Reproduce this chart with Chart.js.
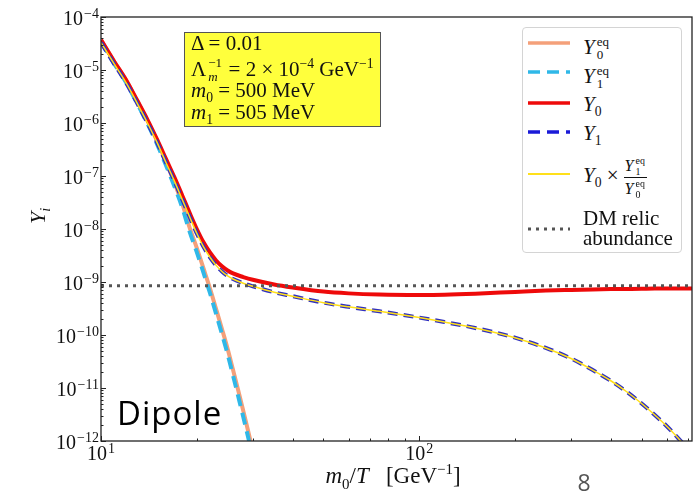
<!DOCTYPE html>
<html>
<head>
<meta charset="utf-8">
<script src="https://cdn.jsdelivr.net/npm/chart.js@4.4.1/dist/chart.umd.min.js"></script>
<style>
  body { margin: 0; background: #fff; }
  #wrap { position: relative; width: 698px; height: 498px; font-family: "Liberation Serif", serif; color: #111; }
  canvas { position: absolute; left: 0; top: 0; }
  .abs { position: absolute; white-space: nowrap; }
  sup, sub { font-size: 0.65em; line-height: 0; }
  /* stacked super/subscript */
  .ss { display: inline-block; position: relative; width: 0.66em; height: 1em; margin-left: 2px; }
  .ss .u, .ss .d { position: absolute; left: 0; font-size: 0.62em; line-height: 1; font-style: normal; }
  .ss .u { top: 0.12em; }
  .ss .d { top: 1.18em; }
  #box { left: 184px; top: 32px; height: 95px; box-sizing: border-box; padding: 0 7px 0 6px; background: #ffff3c;
         border: 1.5px solid #555; font-size: 21px; line-height: 21.5px; }
  #legend { left: 522px; top: 27px; width: 160px; height: 226px; box-sizing: border-box; background: #fff;
            border: 1px solid #d4d4d4; border-radius: 4px; }
  .lt { position: absolute; left: 60px; height: 24px; line-height: 24px; font-size: 21px; white-space: nowrap; }
  .frac { display: inline-flex; flex-direction: column; align-items: center; vertical-align: middle; font-size: 16px; line-height: 20px; margin-left: 5px; }
  .frac .num { border-bottom: 1px solid #111; padding: 0 1px 1px; }
</style>
</head>
<body>
<div id="wrap">
  <canvas id="c" width="698" height="498"></canvas>

  <div class="abs" id="box">
    <div>&Delta; = 0.01</div>
    <div>&Lambda;<span class="ss" style="width:0.72em"><span class="u">&minus;1</span><span class="d"><i>m</i></span></span> = 2 &times; 10<sup>&minus;4</sup> GeV<sup>&minus;1</sup></div>
    <div><i>m</i><sub>0</sub> = 500 MeV</div>
    <div><i>m</i><sub>1</sub> = 505 MeV</div>
  </div>

  <div class="abs" id="legend">
    <svg width="160" height="226" style="position:absolute;left:-1px;top:-1px">
      <line x1="6" y1="16" x2="48" y2="16" stroke="#f4a07a" stroke-width="3.5"/>
      <line x1="6" y1="45" x2="48" y2="45" stroke="#2fb8e8" stroke-width="3.5" stroke-dasharray="12 7"/>
      <line x1="6" y1="76" x2="48" y2="76" stroke="#ee0a0a" stroke-width="3.5"/>
      <line x1="6" y1="105" x2="48" y2="105" stroke="#1a1ad8" stroke-width="3.5" stroke-dasharray="12 7"/>
      <line x1="6" y1="147" x2="48" y2="147" stroke="#ffe01a" stroke-width="2"/>
      <line x1="6" y1="202" x2="48" y2="202" stroke="#555" stroke-width="3" stroke-dasharray="3 5"/>
    </svg>
    <div class="lt" style="top:5px"><i>Y</i><span class="ss"><span class="u">eq</span><span class="d">0</span></span></div>
    <div class="lt" style="top:34px"><i>Y</i><span class="ss"><span class="u">eq</span><span class="d">1</span></span></div>
    <div class="lt" style="top:64px"><i>Y</i><sub>0</sub></div>
    <div class="lt" style="top:93px"><i>Y</i><sub>1</sub></div>
    <div class="lt" style="top:123px;height:48px;line-height:48px"><i>Y</i><sub>0</sub> &times;<span class="frac"><span class="num"><i>Y</i><span class="ss"><span class="u">eq</span><span class="d">1</span></span></span><span><i>Y</i><span class="ss"><span class="u">eq</span><span class="d">0</span></span></span></span></div>
    <div class="lt" style="top:180px;line-height:20px;height:44px">DM relic<br>abundance</div>
  </div>

  <div class="abs" style="left:26px;top:204px;width:24px;height:24px;font-size:22px;line-height:24px;transform:rotate(-90deg);text-align:center"><i>Y</i><sub><i>i</i></sub></div>
  <div class="abs" style="left:243px;top:462px;width:300px;text-align:center;font-size:23px;line-height:28px"><i>m</i><sub>0</sub>/<i>T</i>&nbsp;&nbsp;&nbsp;[GeV<sup>&minus;1</sup>]</div>
</div>
<script>
// Y_eq curves (only visible down to 1e-12)
const xEq = [10, 11, 12, 13, 14, 15, 16, 17, 18, 19, 20, 21, 22, 23, 24, 25, 26, 27, 28, 29, 30];
const y0Eq = [3.7e-5, 1.45e-5, 6.4e-6, 2.6e-6, 1.1e-6, 4.6e-7, 1.85e-7, 7.5e-8, 3.0e-8, 1.05e-8, 4.4e-9,
  1.8e-9, 7.6e-10, 3.1e-10, 1.3e-10, 5.5e-11, 2.2e-11, 9.0e-12, 3.7e-12, 1.55e-12, 6.5e-13];
const y1Eq = [3.4e-5, 1.32e-5, 5.76e-6, 2.32e-6, 9.7e-7, 4.0e-7, 1.6e-7, 6.4e-8, 2.54e-8, 8.8e-9, 3.66e-9,
  1.48e-9, 6.2e-10, 2.5e-10, 1.04e-10, 4.35e-11, 1.72e-11, 6.9e-12, 2.84e-12, 1.18e-12, 4.9e-13];

// solved abundances
const xFo = [10, 11, 12, 13, 14, 15, 16, 17, 18, 19, 20, 21, 22, 23, 24, 25, 26, 28, 30, 35, 40, 50, 60, 75,
  100, 120, 150, 200, 250, 300, 350, 400, 450, 500, 550, 600, 650, 700, 720];
const y0 = [3.7e-5, 1.45e-5, 6.4e-6, 2.65e-6, 1.15e-6, 4.9e-7, 2.1e-7, 9.5e-8, 4.3e-8, 2.0e-8, 1.0e-8,
  5.6e-9, 3.6e-9, 2.55e-9, 1.98e-9, 1.65e-9, 1.45e-9, 1.24e-9, 1.1e-9, 9.0e-10, 7.9e-10, 6.6e-10, 6.1e-10, 5.8e-10,
  5.7e-10, 5.75e-10, 6.0e-10, 6.5e-10, 6.9e-10, 7.1e-10, 7.25e-10, 7.35e-10, 7.4e-10, 7.45e-10,
  7.5e-10, 7.5e-10, 7.5e-10, 7.5e-10, 7.5e-10];
const y1 = [3.3e-5, 1.3e-5, 5.7e-6, 2.35e-6, 1.0e-6, 4.3e-7, 1.8e-7, 8.1e-8, 3.6e-8, 1.68e-8, 8.3e-9,
  4.6e-9, 2.93e-9, 2.06e-9, 1.58e-9, 1.3e-9, 1.14e-9, 9.5e-10, 8.3e-10, 6.4e-10, 5.4e-10, 4.07e-10, 3.4e-10, 2.8e-10,
  2.13e-10, 1.76e-10, 1.36e-10, 8.9e-11, 5.7e-11, 3.6e-11, 2.2e-11, 1.37e-11, 8.4e-12, 5.1e-12,
  3.1e-12, 1.9e-12, 1.15e-12, 7.0e-13, 5.8e-13];
const y0Ratio = [3.3e-5, 1.3e-5, 5.7e-6, 2.35e-6, 1.0e-6, 4.3e-7, 1.8e-7, 8.1e-8, 3.6e-8, 1.68e-8, 8.3e-9,
  4.6e-9, 2.93e-9, 2.06e-9, 1.58e-9, 1.3e-9, 1.14e-9, 9.5e-10, 8.3e-10, 6.4e-10, 5.4e-10, 4.07e-10, 3.4e-10, 2.8e-10,
  2.13e-10, 1.76e-10, 1.36e-10, 8.9e-11, 5.7e-11, 3.6e-11, 2.2e-11, 1.37e-11, 8.4e-12, 5.1e-12,
  3.1e-12, 1.9e-12, 1.15e-12, 7.0e-13, 5.8e-13];

const relicX = [10, 720];
const relicY = [8.5e-10, 8.5e-10];

const xExps = [1, 2];
const yExps = [-4, -5, -6, -7, -8, -9, -10, -11, -12];

const pts = (xs, ys) => xs.map((x, i) => ({ x, y: ys[i] }));
const SERIF = '"Liberation Serif", serif';

function drawPow(ctx, exp, x, y, align) {
  const e = (exp < 0 ? '\u2212' : '') + Math.abs(exp);
  ctx.font = '14px ' + SERIF;
  const ew = ctx.measureText(e).width;
  ctx.font = '20px ' + SERIF;
  const bw = ctx.measureText('10').width;
  const left = align === 'right' ? x - bw - ew - 1 : x - (bw + ew + 1) / 2;
  ctx.textAlign = 'left';
  ctx.fillText('10', left, y);
  ctx.font = '14px ' + SERIF;
  ctx.fillText(e, left + bw + 1, y - 7);
}

const frame = {
  id: 'frame',
  afterDraw(chart) {
    const { ctx, chartArea: a, scales: { x, y } } = chart;
    ctx.save();
    ctx.strokeStyle = '#222';
    ctx.fillStyle = '#111';
    ctx.lineWidth = 1;
    ctx.beginPath();
    // y ticks, pointing in
    for (let e = -12; e <= -4; e++) {
      for (let m = 1; m <= 9; m++) {
        const v = m * Math.pow(10, e);
        if (v > 1.0001e-4) break;
        const py = Math.round(y.getPixelForValue(v)) + 0.5;
        const len = m === 1 ? 5 : 2.5;
        ctx.moveTo(a.left, py); ctx.lineTo(a.left + len, py);
      }
    }
    // x ticks, pointing in
    for (let e = 1; e <= 2; e++) {
      for (let m = 1; m <= 9; m++) {
        const v = m * Math.pow(10, e);
        if (v > x.max) break;
        const px = Math.round(x.getPixelForValue(v)) + 0.5;
        const len = m === 1 ? 5 : 2.5;
        ctx.moveTo(px, a.bottom); ctx.lineTo(px, a.bottom - len);
      }
    }
    ctx.stroke();
    ctx.lineWidth = 1.3;
    ctx.strokeRect(a.left, a.top, a.right - a.left, a.bottom - a.top);

    yExps.forEach(e => drawPow(ctx, e, a.left - 2, y.getPixelForValue(Math.pow(10, e)) + 8, 'right'));
    xExps.forEach(e => drawPow(ctx, e, x.getPixelForValue(Math.pow(10, e)), a.bottom + 19, 'center'));

    ctx.fillStyle = '#000';
    ctx.font = '33px "Open Sans", sans-serif';
    ctx.letterSpacing = '1px';
    ctx.textAlign = 'left';
    ctx.fillText('Dipole', 117, 425);
    ctx.letterSpacing = '0px';
    ctx.fillStyle = '#555';
    ctx.font = '23px "Open Sans", sans-serif';
    ctx.textAlign = 'center';
    ctx.fillText('8', 584, 491);
    ctx.restore();
  }
};

new Chart(document.getElementById('c'), {
  type: 'line',
  data: {
    datasets: [
      { label: 'Y0eq', data: pts(xEq, y0Eq), borderColor: '#f4a07a', borderWidth: 4, order: 6 },
      { label: 'Y1eq', data: pts(xEq, y1Eq), borderColor: '#2fb8e8', borderWidth: 4, borderDash: [12, 7], order: 5 },
      { label: 'Y0', data: pts(xFo, y0), borderColor: '#ee0a0a', borderWidth: 4, order: 4 },
      { label: 'Y1', data: pts(xFo, y1), borderColor: '#3030c0', borderWidth: 4, borderDash: [10, 6], order: 3 },
      { label: 'Y0 x ratio', data: pts(xFo, y0Ratio), borderColor: '#ffe01a', borderWidth: 1.5, order: 2 },
      { label: 'relic', data: pts(relicX, relicY), borderColor: '#555', borderWidth: 3, borderDash: [3, 5], order: 1 }
    ]
  },
  options: {
    responsive: false,
    animation: false,
    elements: { point: { radius: 0 }, line: { cubicInterpolationMode: 'monotone' } },
    layout: { padding: { top: 17, right: 6, left: 0, bottom: 0 } },
    plugins: { legend: { display: false }, tooltip: { enabled: false } },
    scales: {
      x: {
        type: 'logarithmic', min: 10, max: 720,
        grid: { display: false }, border: { display: false }, ticks: { display: false },
        afterFit: s => { s.height = 57; }
      },
      y: {
        type: 'logarithmic', min: 1e-12, max: 1e-4,
        grid: { display: false }, border: { display: false }, ticks: { display: false },
        afterFit: s => { s.width = 101; }
      }
    }
  },
  plugins: [frame]
});
</script>
</body>
</html>
